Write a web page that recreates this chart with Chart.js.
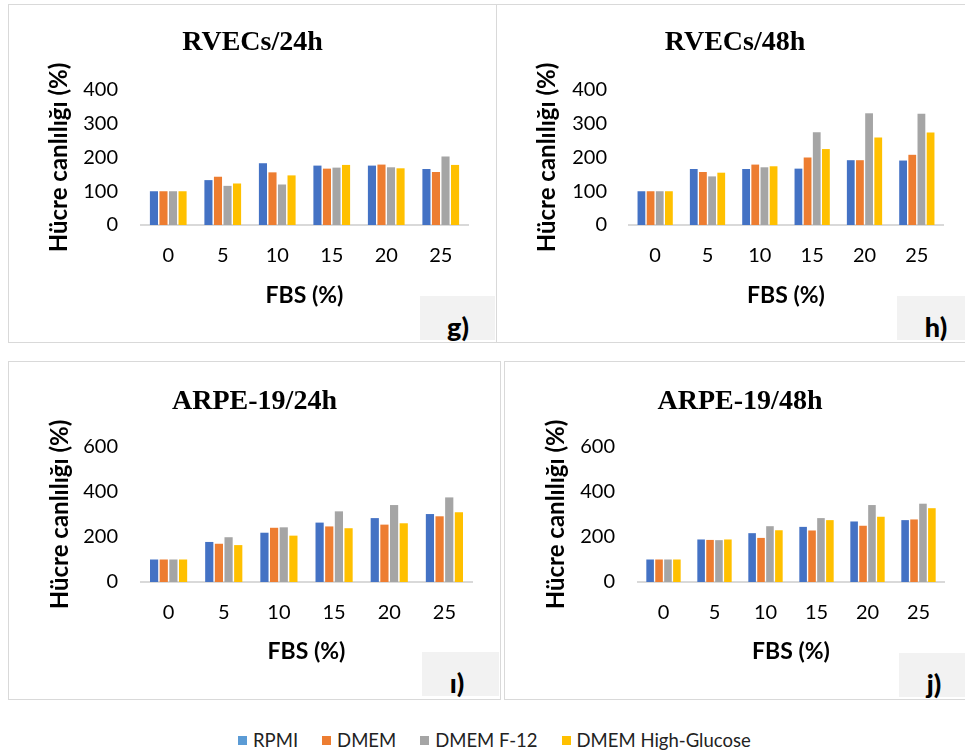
<!DOCTYPE html>
<html>
<head>
<meta charset="utf-8">
<script src="https://cdn.jsdelivr.net/npm/chart.js@4.4.0/dist/chart.umd.min.js"></script>
<style>
html, body { margin: 0; padding: 0; background: #fff; width: 965px; height: 754px; overflow: hidden; }
.frame { position: absolute; box-sizing: border-box; border: 1.5px solid #d9d9d9; }
.panel { position: absolute; }
.tag { position: absolute; background: #f2f2f2; }
.tagText { position: absolute; width: 60px; text-align: center; font: 900 27px Lato; line-height: 27px; color: #000; }
#legend { position: absolute; left: 238px; top: 729px; display: flex; align-items: center; font: 18.5px Lato; color: #222; }
#legend .sw { display: inline-block; width: 9px; height: 9px; margin-right: 6px; }
#legend .lb { margin-right: 24px; }
</style>
</head>
<body>
<div id="root"></div>
<div id="legend"></div>
<script>
// x categories (FBS %)
const fbsLevels = ['0', '5', '10', '15', '20', '25'];

const seriesNames = ['RPMI', 'DMEM', 'DMEM F-12', 'DMEM High-Glucose'];
const seriesColors = ['#4472C4', '#ED7D31', '#A5A5A5', '#FFC000'];
const legendColors = ['#5B9BD5', '#ED7D31', '#A5A5A5', '#FFC000'];

// y tick labels
const rvecsTicks = [0, 100, 200, 300, 400];
const arpeTicks = [0, 200, 400, 600];

// RVECs / 24h
const rvecs24Rpmi = [100, 133, 183, 176, 176, 166];
const rvecs24Dmem = [100, 143, 156, 167, 179, 157];
const rvecs24F12  = [100, 116, 120, 170, 171, 203];
const rvecs24High = [100, 123, 147, 178, 168, 178];

// RVECs / 48h
const rvecs48Rpmi = [100, 166, 166, 167, 192, 191];
const rvecs48Dmem = [100, 157, 179, 200, 192, 208];
const rvecs48F12  = [100, 144, 171, 275, 331, 330];
const rvecs48High = [100, 155, 174, 225, 259, 274];

// ARPE-19 / 24h
const arpe24Rpmi = [100, 178, 219, 264, 284, 302];
const arpe24Dmem = [100, 170, 241, 247, 255, 292];
const arpe24F12  = [100, 199, 243, 314, 342, 376];
const arpe24High = [100, 164, 206, 239, 261, 310];

// ARPE-19 / 48h
const arpe48Rpmi = [100, 189, 217, 245, 269, 275];
const arpe48Dmem = [100, 187, 196, 229, 250, 278];
const arpe48F12  = [100, 186, 248, 284, 342, 348];
const arpe48High = [100, 189, 230, 275, 290, 328];

// panel layout: frame box, plot area, label spots (page pixels)
const panels = [
    { title: 'RVECs/24h', ticks: rvecsTicks, series: [rvecs24Rpmi, rvecs24Dmem, rvecs24F12, rvecs24High],
      frame: [8, 4, 497, 343], area: [141, 90, 468, 225], tickRight: 118, yTitleX: 59,
      titleY: 43, xTickY: 256, xTitleY: 296, noLeft: false,
      tag: [420, 296, 495, 340], tagText: 'g)', tagX: 458, tagBase: 337 },
    { title: 'RVECs/48h', ticks: rvecsTicks, series: [rvecs48Rpmi, rvecs48Dmem, rvecs48F12, rvecs48High],
      frame: [497, 4, 973, 343], area: [629, 90, 943, 225], tickRight: 607, yTitleX: 547,
      titleY: 43, xTickY: 256, xTitleY: 296, noLeft: true,
      tag: [897, 296, 965, 340], tagText: 'h)', tagX: 936, tagBase: 337 },
    { title: 'ARPE-19/24h', ticks: arpeTicks, series: [arpe24Rpmi, arpe24Dmem, arpe24F12, arpe24High],
      frame: [8, 361, 501, 700], area: [141, 447, 472, 582], tickRight: 118, yTitleX: 60,
      titleY: 402, xTickY: 613, xTitleY: 652, noLeft: false,
      tag: [422, 652, 499, 696], tagText: 'ı)', tagX: 457, tagBase: 693 },
    { title: 'ARPE-19/48h', ticks: arpeTicks, series: [arpe48Rpmi, arpe48Dmem, arpe48F12, arpe48High],
      frame: [504, 361, 976, 700], area: [638, 447, 944, 582], tickRight: 615, yTitleX: 556,
      titleY: 402, xTickY: 613, xTitleY: 652, noLeft: false,
      tag: [899, 653, 965, 697], tagText: 'j)', tagX: 934, tagBase: 694 }
];

const root = document.getElementById('root');

function addBox(cls, l, t, w, h) {
    const d = document.createElement('div');
    d.className = cls;
    d.style.left = l + 'px';
    d.style.top = t + 'px';
    d.style.width = w + 'px';
    d.style.height = h + 'px';
    root.appendChild(d);
    return d;
}

function makePanel(p) {
    const [fx, fy, fr, fb] = p.frame;
    const [al, at, ar, ab] = p.area;
    const fw = fr - fx, fh = fb - fy;

    const frameDiv = addBox('frame', fx, fy, fw, fh);
    if (p.noLeft) frameDiv.style.borderLeft = 'none';

    const [tl, tt, tr, tb] = p.tag;
    addBox('tag', tl, tt, tr - tl, tb - tt);
    const txt = document.createElement('div');
    txt.className = 'tagText';
    txt.textContent = p.tagText;
    txt.style.left = (p.tagX - 30) + 'px';
    txt.style.top = (p.tagBase - 24) + 'px';
    root.appendChild(txt);

    const wrap = addBox('panel', fx, fy, fw, fh);
    const canvas = document.createElement('canvas');
    canvas.width = fw;
    canvas.height = fh;
    wrap.appendChild(canvas);

    const titleSize = 28, titleLH = titleSize * 1.2;
    const titleTop = p.titleY - fy - titleLH / 2;
    const titleBottom = (at - fy) - titleLH - titleTop;
    const axisTitleLH = 24 * 1.2;
    const tickLH = 20 * 1.2;

    new Chart(canvas, {
        type: 'bar',
        data: {
            labels: fbsLevels,
            datasets: seriesNames.map((name, i) => ({
                label: name,
                data: p.series[i],
                backgroundColor: seriesColors[i],
                borderWidth: 0,
                categoryPercentage: 0.7,
                barPercentage: 0.85
            }))
        },
        options: {
            responsive: false,
            animation: false,
            devicePixelRatio: 1,
            layout: { padding: 0 },
            plugins: {
                legend: { display: false },
                tooltip: { enabled: false },
                title: {
                    display: true,
                    text: p.title,
                    color: '#000',
                    font: { family: "'Liberation Serif', serif", size: titleSize, weight: 'bold' },
                    padding: { top: titleTop, bottom: titleBottom }
                }
            },
            scales: {
                x: {
                    offset: true,
                    grid: { display: false, drawTicks: false },
                    border: { display: true, color: '#d9d9d9', width: 2 },
                    ticks: { color: '#000', padding: p.xTickY - ab - tickLH / 2, font: { family: 'Lato', size: 20 } },
                    title: {
                        display: true, text: 'FBS (%)', color: '#000',
                        font: { family: 'Lato', size: 23, weight: 'bold' },
                        padding: { top: 0, bottom: fb - p.xTitleY - 23 * 1.2 / 2 }
                    },
                    afterFit: s => { s.height = fb - ab; }
                },
                y: {
                    min: 0,
                    max: p.ticks[p.ticks.length - 1],
                    grid: { display: false, drawTicks: false },
                    border: { display: false },
                    ticks: { stepSize: p.ticks[1] - p.ticks[0], color: '#000', padding: al - p.tickRight, font: { family: 'Lato', size: 20 } },
                    title: {
                        display: true, text: 'Hücre canlılığı (%)', color: '#000',
                        font: { family: 'Lato', size: 24, weight: 'bold' },
                        padding: { top: p.yTitleX - fx - axisTitleLH / 2, bottom: 0 }
                    },
                    afterFit: s => { s.width = al - fx; }
                },
                // empty right-hand axis: keeps the title centred on the whole frame
                yRight: {
                    position: 'right',
                    grid: { display: false, drawTicks: false },
                    border: { display: false },
                    ticks: { display: false },
                    afterFit: s => { s.width = fr - ar; }
                }
            }
        }
    });
}

panels.forEach(makePanel);

// legend under the four panels
const legend = document.getElementById('legend');
seriesNames.forEach((name, i) => {
    const sw = document.createElement('span');
    sw.className = 'sw';
    sw.style.background = legendColors[i];
    const lb = document.createElement('span');
    lb.className = 'lb';
    lb.textContent = name;
    legend.appendChild(sw);
    legend.appendChild(lb);
});
</script>
</body>
</html>
